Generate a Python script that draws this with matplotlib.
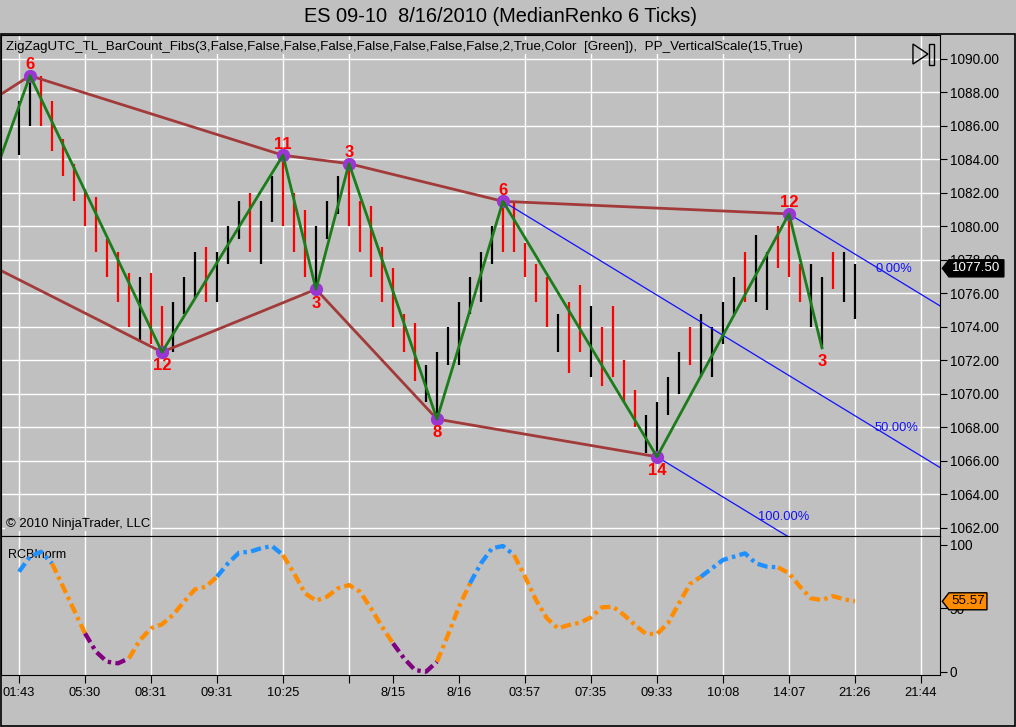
import matplotlib
matplotlib.use('Agg')
import matplotlib.pyplot as plt
import matplotlib.transforms as mtransforms
from matplotlib.patches import Polygon, Rectangle
from matplotlib.ticker import FormatStrFormatter
import numpy as np

plt.rcParams['font.family'] = ['Liberation Sans', 'DejaVu Sans']

# --- data ---
bar_high = [1087.5, 1089.0, 1089.0, 1087.5, 1085.25, 1083.75, 1082.25, 1081.75, 1079.25, 1078.5,
            1077.25, 1077.0, 1077.25, 1075.25, 1075.5, 1077.0, 1078.5, 1078.75, 1078.5, 1080.0,
            1081.5, 1082.0, 1081.5, 1083.0, 1084.25, 1082.0, 1081.0, 1080.0, 1081.5, 1083.0,
            1083.75, 1081.5, 1081.25, 1078.75, 1077.5, 1074.75, 1074.25, 1071.75, 1072.5, 1074.0,
            1075.5, 1077.0, 1078.5, 1080.0, 1081.5, 1081.5, 1079.0, 1077.75, 1077.0, 1074.75,
            1075.5, 1076.5, 1075.25, 1074.0, 1075.25, 1072.0, 1070.25, 1068.75, 1069.5, 1071.0,
            1072.5, 1074.0, 1074.75, 1074.0, 1075.5, 1077.0, 1078.5, 1079.5, 1078.5, 1080.0,
            1080.75, 1077.75, 1077.75, 1077.0, 1078.5, 1078.5, 1077.75]
bar_low = [1084.25, 1086.0, 1086.0, 1084.5, 1083.0, 1081.5, 1080.0, 1078.5, 1077.0, 1075.5,
           1074.0, 1073.25, 1073.0, 1072.5, 1072.5, 1074.75, 1075.75, 1075.5, 1075.5, 1077.75,
           1079.25, 1078.5, 1077.75, 1080.25, 1080.0, 1078.5, 1077.0, 1076.25, 1079.25, 1080.75,
           1080.0, 1078.5, 1077.0, 1075.5, 1074.0, 1072.5, 1070.75, 1069.5, 1068.5, 1071.75,
           1071.75, 1074.75, 1075.5, 1077.75, 1078.5, 1078.5, 1077.0, 1075.5, 1074.0, 1072.5,
           1071.25, 1072.5, 1071.0, 1070.5, 1071.0, 1069.5, 1068.0, 1066.5, 1066.25, 1068.75,
           1070.0, 1071.75, 1071.0, 1071.0, 1073.0, 1074.75, 1075.5, 1075.5, 1075.0, 1077.5,
           1077.0, 1075.5, 1074.0, 1072.75, 1076.25, 1075.5, 1074.5]
bar_up = "BBRRRRRRRRRBRRBBBRBBBRBBRRRBBBRRRRRRRBBBBBBBRRRRRBRRBRRRRBBBBRBBBBRBBRRRBBRB"

zz_x = [-3, 1, 13, 24, 27, 30, 38, 44, 58, 70, 73]
zz_y = [1081.7, 1089.0, 1072.5, 1084.25, 1076.25, 1083.75, 1068.5, 1081.5, 1066.25, 1080.75, 1072.75]
zz_count = [None, 6, 12, 11, 3, 3, 8, 6, 14, 12, 3]

upper_x = [-4, 1, 24, 30, 44, 70]
upper_y = [1086.9, 1089.0, 1084.25, 1083.75, 1081.5, 1080.75]
lower_x = [-4, 13, 27, 38, 58]
lower_y = [1078.15, 1072.5, 1076.25, 1068.5, 1066.25]

last_price = 1077.50

rcbi = [78.9, 90.8, 94.7, 85.5, 67.1, 48.7, 30.3, 15.8, 7.9, 6.6,
        10.6, 25.0, 34.2, 37.4, 44.8, 55.3, 65.0, 67.1, 75.0, 85.5,
        93.9, 94.7, 97.4, 99.2, 92.1, 77.7, 61.9, 56.0, 59.2, 65.8,
        68.4, 63.1, 50.0, 35.5, 22.4, 10.6, 1.3, 0.0, 7.9, 29.0,
        51.3, 69.8, 85.5, 97.4, 99.2, 92.1, 75.0, 56.6, 42.1, 34.2,
        36.9, 38.7, 42.9, 50.8, 51.3, 44.8, 36.9, 29.8, 29.8, 38.2,
        54.0, 69.2, 75.0, 81.6, 88.2, 90.8, 93.4, 85.5, 82.9, 82.4,
        77.7, 67.1, 57.9, 56.6, 59.7, 57.1, 55.57]
rcbi_state = "bbboooppppoooooooobbbbbboooooooooopppp" + "ooobbbbooooooooooooooooobbbbbbboooooooo"
rcbi_state = rcbi_state[:77]

tick_pos = [0, 6, 12, 18, 24, 30, 34, 40, 46, 52, 58, 64, 70, 76, 82]
tick_lab = ['01:43', '05:30', '08:31', '09:31', '10:25', '', '8/15', '8/16',
            '03:57', '07:35', '09:33', '10:08', '14:07', '21:26', '21:44']
date_ticks = [34, 40]

fib_labels = ['0.00%', '50.00%', '100.00%']
fib_label_x = [79.5, 79.8, 69.5]

# --- figure ---
bg = '#c0c0c0'
W, H = 1016, 727
fig = plt.figure(figsize=(W / 100, H / 100), dpi=100, facecolor=bg)

def box(l, t, r, b):
    return [l / W, 1 - b / H, (r - l) / W, (b - t) / H]

ax = fig.add_axes(box(1, 35, 940, 536), facecolor=bg)
ax2 = fig.add_axes(box(1, 536, 940, 675), facecolor=bg, sharex=ax)

x = np.arange(len(bar_high))
ax.set_xlim(-1.636, 83.73)
ax.set_ylim(1061.52, 1091.43)

# grid
for t in tick_pos:
    if t not in date_ticks:
        ax.axvline(t, color='white', lw=1, zorder=0.5)
        ax2.axvline(t, color='white', lw=1, zorder=0.5)
for p in np.arange(1062, 1091, 2):
    ax.axhline(p, color='white', lw=1, zorder=0.5)

# bars
cols = ['black' if c == 'B' else '#ff0000' for c in bar_up]
ax.vlines(x, bar_low, bar_high, colors=cols, lw=1.6, zorder=2)

# trend lines and zigzag
ax.plot(upper_x, upper_y, color='#a33a3a', lw=2, zorder=3)
ax.plot(lower_x, lower_y, color='#a33a3a', lw=2, zorder=3)
ax.plot(zz_x, zz_y, color='#1a7d1a', lw=2, zorder=4)
ax.plot(zz_x[1:-1], zz_y[1:-1], 'o', ms=8.5, color='#9b35d4', zorder=3.5)

for i in range(1, len(zz_x)):
    is_high = zz_y[i] > zz_y[i - 1]
    ax.annotate(str(zz_count[i]), (zz_x[i], zz_y[i]), textcoords='offset points',
                xytext=(0, 8 if is_high else -10), ha='center', va='center',
                color='#ff0000', fontsize=12, fontweight='bold', zorder=6)

# pitchfork from the last three pivots
hx, hy = zz_x[7], zz_y[7]
mx = (zz_x[8] + zz_x[9]) / 2
my = (zz_y[8] + zz_y[9]) / 2
slope = (my - hy) / (mx - hx)
starts = [(zz_x[9], zz_y[9]), (hx, hy), (zz_x[8], zz_y[8])]
offs = [2, 5, 8]
for (sx, sy), lab, lx, off in zip(starts, fib_labels, fib_label_x, offs):
    ex = 90
    ax.plot([sx, ex], [sy, sy + slope * (ex - sx)], color='#1010ff', lw=0.9, zorder=2.5)
    ax.annotate(lab, (lx, sy + slope * (lx - sx)), textcoords='offset points',
                xytext=(0, off), ha='center', va='bottom', color='#1010ff', fontsize=9.3)

# price axis
ax.yaxis.tick_right()
ax.set_yticks(np.arange(1062, 1091, 2))
ax.yaxis.set_major_formatter(FormatStrFormatter('%.2f'))
ax.tick_params(axis='y', direction='out', length=5, labelsize=9.8, pad=2, colors='black')
ax.tick_params(axis='x', bottom=False, labelbottom=False)
for s in ax.spines.values():
    s.set_color('black')

def tag(a, y, text, face, tcolor, half_h, right):
    tr = mtransforms.blended_transform_factory(a.transAxes, a.transData)
    pts = [(1.0025, y), (1.0095, y + half_h), (right, y + half_h),
           (right, y - half_h), (1.0095, y - half_h)]
    a.add_patch(Polygon(pts, closed=True, transform=tr, facecolor=face,
                        edgecolor='black', lw=1, clip_on=False, zorder=10))
    a.text((1.0095 + right) / 2, y, text, transform=tr, ha='center', va='center',
           color=tcolor, fontsize=9.6, clip_on=False, zorder=11)

tag(ax, last_price, '%.2f' % last_price, 'black', 'white', 0.51, 1.068)

# play icon
ax.add_patch(Polygon([(0.9712, 0.982), (0.9712, 0.942), (0.9872, 0.962)], closed=True,
                     transform=ax.transAxes, fill=False, ec='black', lw=1))
ax.add_patch(Rectangle((0.9888, 0.940), 0.0043, 0.042, transform=ax.transAxes,
                       fill=False, ec='black', lw=1))

ax.text(0.0053, 0.976, 'ZigZagUTC_TL_BarCount_Fibs(3,False,False,False,False,False,False,False,'
        'False,2,True,Color  [Green]),  PP_VerticalScale(15,True)',
        transform=ax.transAxes, fontsize=9.6, va='center', ha='left',
        bbox=dict(facecolor=bg, edgecolor='none', pad=0.5), zorder=7)
ax.text(0.0053, 0.024, '© 2010 NinjaTrader, LLC', transform=ax.transAxes,
        fontsize=9.4, va='center', ha='left',
        bbox=dict(facecolor=bg, edgecolor='none', pad=0.5), zorder=7)

# indicator panel
colmap = {'b': '#1e90ff', 'o': '#ff8c00', 'p': '#800080'}
start = 0
for i in range(1, len(rcbi) + 1):
    if i == len(rcbi) or rcbi_state[i] != rcbi_state[start]:
        end = min(i, len(rcbi) - 1)
        ax2.plot(x[start:end + 1], rcbi[start:end + 1], color=colmap[rcbi_state[start]],
                 lw=3.1, ls=(0, (2.4, 1.0, 0.8, 1.0)), solid_capstyle='butt', zorder=3)
        start = i

ax2.set_ylim(-2.6, 107.1)
ax2.yaxis.tick_right()
ax2.set_yticks([0, 50, 100])
ax2.tick_params(axis='y', direction='out', length=5, labelsize=9.8, pad=2)
ax2.set_xticks(tick_pos)
ax2.set_xticklabels(tick_lab)
ax2.tick_params(axis='x', direction='out', length=6, labelsize=9.3, pad=3)
for s in ax2.spines.values():
    s.set_color('black')
ax2.text(0.0075, 0.863, 'RCBInorm', transform=ax2.transAxes, fontsize=9, va='center', zorder=2)
tag(ax2, rcbi[-1], '%.2f' % rcbi[-1], '#ff8c00', 'black', 6.7, 1.050)

fig.text(501 / W, 1 - 17 / H, 'ES 09-10  8/16/2010 (MedianRenko 6 Ticks)',
         ha='center', va='center', fontsize=14.4)
fig.add_artist(Rectangle((1 / W, 1 - 726 / H), 1014 / W, 692 / H, transform=fig.transFigure,
                         fill=False, ec='black', lw=1.2))

fig.savefig('out.png', dpi=100, facecolor=bg)
